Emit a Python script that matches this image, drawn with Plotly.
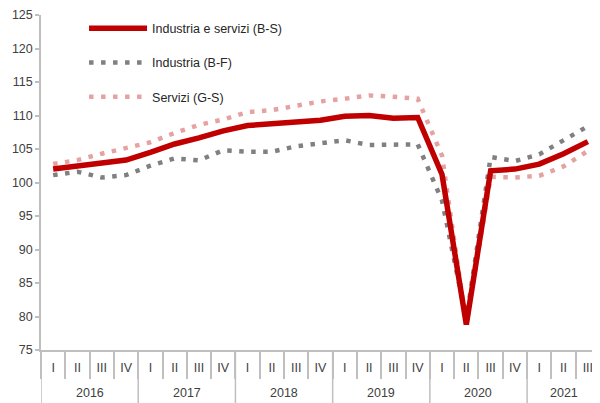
import plotly.graph_objects as go

years = ["2016"] * 4 + ["2017"] * 4 + ["2018"] * 4 + ["2019"] * 4 + ["2020"] * 4 + ["2021"] * 3
quarters = ["I", "II", "III", "IV"] * 5 + ["I", "II", "III"]

totale = [102.0, 102.4, 102.85, 103.35, 104.5, 105.75, 106.65, 107.7, 108.5, 108.75, 109.2, 109.3,
          109.9, 110.0, 109.6, 109.7, 101.2, 78.8, 101.75, 102.0, 102.75, 104.3, 106.1]
industria = [101.1, 101.6, 100.75, 101.1, 102.5, 103.6, 103.3, 104.8, 104.6, 104.6, 105.4, 105.9,
             106.3, 105.6, 105.7, 105.7, 97.3, 79.6, 103.8, 103.2, 104.2, 106.3, 108.4]
servizi = [102.75, 103.35, 104.3, 105.1, 106.0, 107.4, 108.6, 109.4, 110.5, 110.8, 111.5, 112.1,
           112.5, 113.0, 112.8, 112.5, 104.0, 78.8, 100.85, 100.75, 101.0, 102.4, 104.7]

idx = list(range(len(quarters)))
font = "Liberation Sans, Arial, sans-serif"
axis_grey = "#BFBFBF"

fig = go.Figure()
fig.add_trace(go.Scatter(x=idx, y=servizi, mode="lines", name="Servizi (G-S)",
                         line=dict(color="#E6A1A1", width=4.5, dash="4.5px,7.5px"),
                         legendgroup="c", legendrank=3))
fig.add_trace(go.Scatter(x=idx, y=industria, mode="lines", name="Industria (B-F)",
                         line=dict(color="#808080", width=4.5, dash="4.5px,7.5px"),
                         legendgroup="b", legendrank=2))
fig.add_trace(go.Scatter(x=idx, y=totale, mode="lines", name="Industria e servizi (B-S)",
                         line=dict(color="#C00000", width=5.5),
                         legendgroup="a", legendrank=1))

# year groups: labels + dividers below the quarter labels
year_names = list(dict.fromkeys(years))
starts = [years.index(y) for y in year_names]
for y in year_names:
    pos = [i for i, v in enumerate(years) if v == y]
    fig.add_annotation(x=(pos[0] + pos[-1]) / 2, y=-0.128, xref="x", yref="paper",
                       text=y, showarrow=False, yanchor="middle",
                       font=dict(family=font, size=12.5, color="#404040"))
for s in starts:
    fig.add_shape(type="line", x0=s - 0.5, x1=s - 0.5, y0=0, y1=-0.16,
                  xref="x", yref="paper", line=dict(color=axis_grey, width=1.5))

# page body has an 8px margin, so the figure is a bit smaller than the window
fig.update_layout(
    width=592, height=395,
    margin=dict(l=33, r=0, t=7, b=53),
    plot_bgcolor="white", paper_bgcolor="white",
    font=dict(family=font, size=12.5, color="#404040"),
    showlegend=True,
    legend=dict(x=0.077, y=1.004, xanchor="left", yanchor="top",
                bgcolor="rgba(0,0,0,0)", traceorder="grouped", tracegroupgap=15,
                itemwidth=58, font=dict(size=12.5, color="#262626")),
)
fig.update_yaxes(range=[75, 125], dtick=5, showgrid=False, zeroline=False, automargin=False,
                 showline=True, linecolor=axis_grey, linewidth=1.5,
                 ticks="outside", ticklen=4, tickcolor=axis_grey, tickwidth=1.5)
fig.update_xaxes(range=[-0.5, 22.5], showgrid=False, zeroline=False, automargin=False,
                 tickvals=idx, ticktext=quarters, ticks="", ticklabelstandoff=5,
                 ticklabeloverflow="allow",
                 showline=True, linecolor=axis_grey, linewidth=1.5,
                 minor=dict(tickvals=[i - 0.5 for i in idx], ticks="outside", ticklen=27,
                            tickcolor=axis_grey, tickwidth=1.5, showgrid=False))

fig.write_html("out.html")
